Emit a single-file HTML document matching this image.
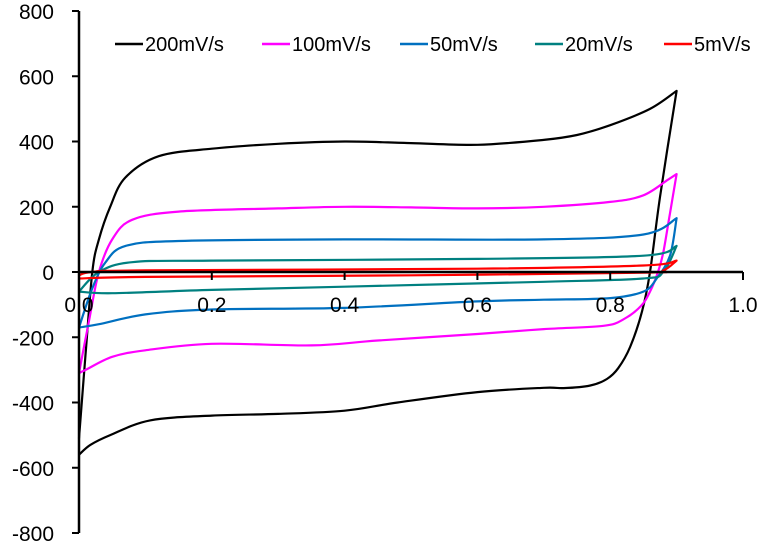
<!DOCTYPE html>
<html><head><meta charset="utf-8">
<style>
html,body{margin:0;padding:0;background:#fff;}
svg{display:block;font-family:"Liberation Sans",Arial,sans-serif;}
</style></head>
<body>
<svg id="chart" width="763" height="546" viewBox="0 0 763 546" xmlns="http://www.w3.org/2000/svg"></svg>
<script>
const seriesNames = ["200mV/s","100mV/s","50mV/s","20mV/s","5mV/s"];
const seriesColors = ["#000000","#ff00ff","#0070c0","#008080","#ff0000"];
const xTicks = [0,0.2,0.4,0.6,0.8,1.0];
const xTickLabels = ["0.0","0.2","0.4","0.6","0.8","1.0"];
const yTicks = [-800,-600,-400,-200,0,200,400,600,800];
const yTickLabels = ["-800","-600","-400","-200","0","200","400","600","800"];

const s200FwdX = [0,0.01,0.02,0.03,0.047,0.07,0.12,0.2,0.3,0.4,0.5,0.6,0.7,0.75,0.8,0.86,0.9];
const s200FwdY = [-510,-250,0,100,200,290,355,378,393,400,395,390,405,420,450,500,555];
const s200RevX = [0.9,0.875,0.86,0.848,0.83,0.812,0.795,0.77,0.73,0.7,0.6,0.48,0.4,0.3,0.2,0.107,0.047,0.017,0];
const s200RevY = [555,230,0,-120,-230,-295,-328,-348,-356,-355,-368,-400,-425,-435,-440,-455,-500,-530,-560];

const s100FwdX = [0,0.015,0.03,0.05,0.08,0.15,0.3,0.4,0.5,0.6,0.7,0.8,0.85,0.887,0.9];
const s100FwdY = [-310,-150,0,100,160,185,195,200,198,195,200,215,235,283,300];
const s100RevX = [0.9,0.89,0.88,0.872,0.86,0.846,0.82,0.79,0.7,0.6,0.45,0.35,0.2,0.1,0.05,0.01,0];
const s100RevY = [300,180,60,0,-60,-105,-145,-165,-175,-190,-210,-225,-220,-240,-260,-300,-310];

const s50FwdX = [0,0.02,0.04,0.07,0.15,0.4,0.7,0.85,0.9];
const s50FwdY = [-170,-50,30,80,95,100,100,115,165];
const s50RevX = [0.9,0.89,0.87,0.85,0.8,0.7,0.6,0.4,0.2,0.1,0.03,0];
const s50RevY = [165,50,-20,-60,-80,-85,-90,-110,-115,-130,-160,-170];

const s20FwdX = [0,0.03,0.08,0.2,0.6,0.85,0.9];
const s20FwdY = [-60,0,30,35,40,50,80];
const s20RevX = [0.9,0.88,0.85,0.7,0.4,0.2,0.05,0];
const s20RevY = [80,0,-20,-30,-45,-55,-65,-60];

const s5FwdX = [0,0.02,0.1,0.6,0.85,0.9];
const s5FwdY = [-10,0,5,10,20,35];
const s5RevX = [0.9,0.88,0.85,0.5,0.1,0];
const s5RevY = [35,5,-2,-10,-15,-20];

const allFwdX=[s200FwdX,s100FwdX,s50FwdX,s20FwdX,s5FwdX];
const allFwdY=[s200FwdY,s100FwdY,s50FwdY,s20FwdY,s5FwdY];
const allRevX=[s200RevX,s100RevX,s50RevX,s20RevX,s5RevX];
const allRevY=[s200RevY,s100RevY,s50RevY,s20RevY,s5RevY];

const X0=79,X1=743,YTOP=11,YBOT=533;
function sx(v){return X0+(v-0)/(1-0)*(X1-X0);}
function sy(v){return YBOT-(v+800)/1600*(YBOT-YTOP);}
const NS="http://www.w3.org/2000/svg";
const svg=document.getElementById("chart");
function mk(tag,attrs){const e=document.createElementNS(NS,tag);for(const k in attrs)e.setAttribute(k,attrs[k]);svg.appendChild(e);return e;}

function smoothPath(pts){
  let d="M"+pts[0][0].toFixed(1)+","+pts[0][1].toFixed(1);
  for(let i=0;i<pts.length-1;i++){
    const p0=pts[i-1]||pts[i],p1=pts[i],p2=pts[i+1],p3=pts[i+2]||p2;
    const c1x=p1[0]+(p2[0]-p0[0])/6,c1y=p1[1]+(p2[1]-p0[1])/6;
    const c2x=p2[0]-(p3[0]-p1[0])/6,c2y=p2[1]-(p3[1]-p1[1])/6;
    d+=" C"+c1x.toFixed(1)+","+c1y.toFixed(1)+" "+c2x.toFixed(1)+","+c2y.toFixed(1)+" "+p2[0].toFixed(1)+","+p2[1].toFixed(1);
  }
  return d;
}

for(let s=0;s<seriesNames.length;s++){
  const fwd=allFwdX[s].map((x,i)=>[sx(x),sy(allFwdY[s][i])]);
  const rev=allRevX[s].map((x,i)=>[sx(x),sy(allRevY[s][i])]);
  const d=smoothPath(fwd)+" "+smoothPath(rev).replace(/^M/," L");
  const p=mk("path",{d:d,fill:"none",stroke:seriesColors[s],"stroke-width":2.2,"stroke-linejoin":"round"});
  
  
}

const ya=mk("line",{x1:X0,y1:YTOP,x2:X0,y2:YBOT,stroke:"#000","stroke-width":2.5});


const xa=mk("line",{x1:X0,y1:sy(0),x2:X1,y2:sy(0),stroke:"#000","stroke-width":2.5});



yTicks.forEach((t,i)=>{
  const y=sy(t);
  const tk=mk("line",{x1:X0-7,y1:y,x2:X0,y2:y,stroke:"#000","stroke-width":2});
  
  
  const tx=mk("text",{x:54,y:y+8,"text-anchor":"end","font-size":21,fill:"#000"});
  tx.textContent=yTickLabels[i];
  
  
});
xTicks.forEach((t,i)=>{
  const x=sx(t);
  if(i>0){
    const tk=mk("line",{x1:x,y1:sy(0),x2:x,y2:sy(0)+8,stroke:"#000","stroke-width":2});
    
    
  }
  const tx=mk("text",{x:x,y:sy(0)+40,"text-anchor":"middle","font-size":21,fill:"#000"});
  tx.textContent=xTickLabels[i];
  
  
});

const legX=[115,262,400,535,664];
for(let s=0;s<seriesNames.length;s++){
  const ln=mk("line",{x1:legX[s],y1:44,x2:legX[s]+28,y2:44,stroke:seriesColors[s],"stroke-width":2.5});
  
  
  const tx=mk("text",{x:legX[s]+30,y:51,"font-size":20,fill:"#000"});
  tx.textContent=seriesNames[s];
  
  
}
</script>
</body></html>
